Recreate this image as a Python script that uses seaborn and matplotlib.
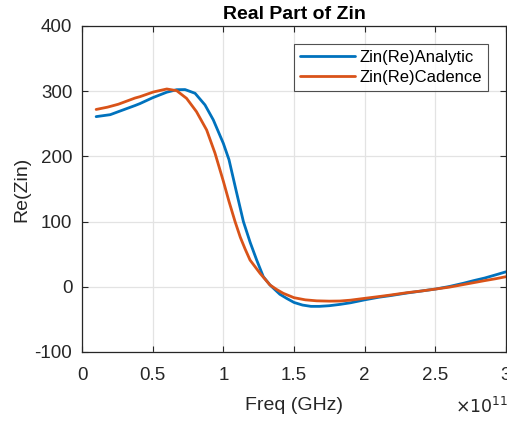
import matplotlib
matplotlib.use("Agg")
import matplotlib.pyplot as plt
import seaborn as sns
import numpy as np
import pandas as pd

# Frequency (in units of 1e11 Hz) and values
freq_analytic = [0.10, 0.20, 0.257, 0.375, 0.41, 0.50, 0.60, 0.67, 0.729, 0.80, 0.87, 0.929,
                 1.00, 1.04, 1.09, 1.142, 1.19, 1.236, 1.283, 1.33, 1.40, 1.45, 1.50, 1.56,
                 1.62, 1.68, 1.75, 1.825, 1.90, 2.00, 2.10, 2.18, 2.30, 2.40, 2.50, 2.60,
                 2.70, 2.77, 2.85, 2.93, 3.00]
re_analytic = [261, 264, 268.6, 278, 281, 290, 298.5, 302.3, 302.5, 296.8, 279, 256,
               220, 195, 148, 100, 68, 41, 15.5, 2.8, -11.5, -18, -24, -28,
               -30, -30, -29, -27, -24.5, -20, -16, -13.6, -9.5, -6.5, -3.5, 0.5,
               5.5, 9.4, 13.5, 18.5, 23]

freq_cadence = [0.10, 0.18, 0.257, 0.375, 0.41, 0.505, 0.60, 0.67, 0.74, 0.81, 0.882, 0.941,
                1.00, 1.04, 1.083, 1.12, 1.154, 1.189, 1.26, 1.33, 1.38, 1.424, 1.50, 1.58,
                1.66, 1.75, 1.825, 1.90, 2.00, 2.10, 2.18, 2.30, 2.40, 2.50, 2.60, 2.70,
                2.77, 2.85, 2.93, 3.00]
re_cadence = [272, 275.5, 280, 289.5, 291.6, 298.8, 303.4, 300.8, 289, 268.6, 240.5, 205,
              162, 131, 100, 76, 58, 41, 20.6, 2.8, -4.5, -10, -16.7, -20,
              -21.5, -22, -21.8, -20.5, -17.7, -15, -12.7, -9, -6.5, -3.5, -0.5, 3.5,
              6.3, 9.5, 12.5, 15.5]

series_names = ["Zin(Re)Analytic", "Zin(Re)Cadence"]
x_ticks = [0, 0.5, 1, 1.5, 2, 2.5, 3]
x_tick_labels = ["0", "0.5", "1", "1.5", "2", "2.5", "3"]
y_ticks = [-100, 0, 100, 200, 300, 400]

df = pd.concat([
    pd.DataFrame({"freq": np.array(freq_analytic) * 1e11, "val": re_analytic, "series": series_names[0]}),
    pd.DataFrame({"freq": np.array(freq_cadence) * 1e11, "val": re_cadence, "series": series_names[1]}),
])

sns.set_theme(style="ticks")
plt.rcParams["font.family"] = ["Liberation Sans", "DejaVu Sans"]
plt.rcParams["axes.unicode_minus"] = False

txt = "#262626"
fig = plt.figure(figsize=(5.07, 4.23), dpi=100)
ax = fig.add_axes([82 / 507, 1 - 352 / 423, (506 - 82) / 507, (352 - 26) / 423])

sns.lineplot(data=df, x="freq", y="val", hue="series", ax=ax,
             palette=["#0072BD", "#D95319"], linewidth=2.0, sort=False, estimator=None)

ax.set_xlim(0, 3e11)
ax.set_ylim(-100, 400)
ax.set_xticks([t * 1e11 for t in x_ticks])
ax.set_xticklabels(x_tick_labels)
ax.set_yticks(y_ticks)
ax.grid(True, color="#e3e3e3", linewidth=0.9)
ax.set_axisbelow(True)
ax.tick_params(direction="in", top=True, right=True, labelsize=13.5, colors=txt,
               length=4, width=0.8)
ax.tick_params(axis="x", pad=11)
ax.tick_params(axis="y", pad=7)
for s in ax.spines.values():
    s.set_color(txt)
    s.set_linewidth(0.9)
    s.set_visible(True)

ax.set_xlabel("Freq (GHz)", fontsize=14, color=txt, labelpad=9)
ax.set_ylabel("Re(Zin)", fontsize=14, color=txt, labelpad=3)
ax.set_title("Real Part of Zin", fontsize=14, fontweight="bold", color="black", pad=5)

fig.text(455 / 507, 1 - 413 / 423, r"$\times10^{11}$", fontsize=12.5, color=txt, ha="left",
         va="baseline")

leg = ax.legend(loc="upper right", bbox_to_anchor=(488 / 507, 1 - 44 / 423),
                bbox_transform=fig.transFigure, fontsize=12, frameon=True, fancybox=False,
                handlelength=3.3, handletextpad=0.3, borderpad=0.35, labelspacing=0.3,
                borderaxespad=0)
leg.get_frame().set_edgecolor(txt)
leg.get_frame().set_linewidth(0.8)
for t in leg.get_texts():
    t.set_color("black")

fig.savefig("out.png", dpi=100)
